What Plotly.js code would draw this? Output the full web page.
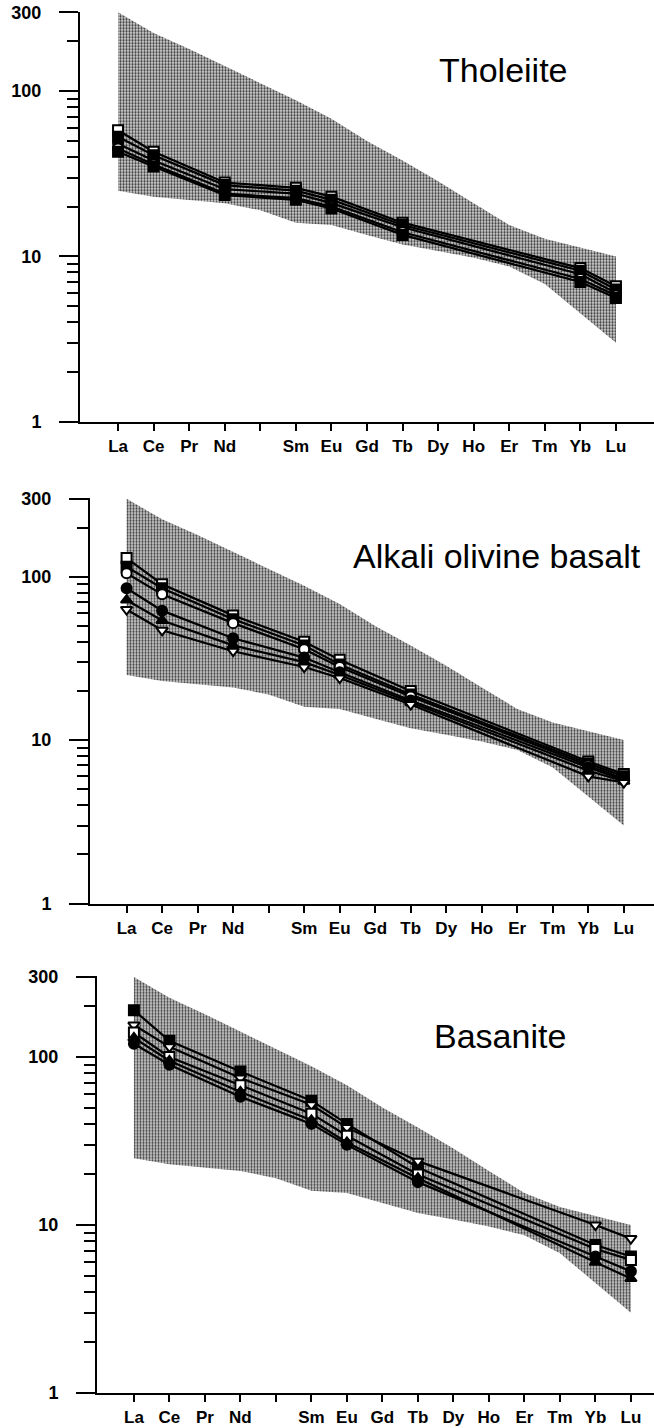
<!DOCTYPE html>
<html>
<head>
<meta charset="utf-8">
<script src="https://cdn.plot.ly/plotly-3.0.1.min.js"></script>
<style>html,body{margin:0;padding:0;background:#fff}#chart{width:654px;height:1428px}</style>
</head>
<body>
<div id="chart"></div>
<script>
// ---- data ----
const elements = ['La','Ce','Pr','Nd','Pm','Sm','Eu','Gd','Tb','Dy','Ho','Er','Tm','Yb','Lu'];
const tickLabels = ['La','Ce','Pr','Nd','','Sm','Eu','Gd','Tb','Dy','Ho','Er','Tm','Yb','Lu'];
const analysed = ['La','Ce','Nd','Sm','Eu','Tb','Yb','Lu'];
const bandUpper = [300, 225, 180, 142, 112, 88, 68, 50, 38, 28.5, 21, 15.5, 12.8, 11.3, 10];
const bandLower = [25, 23, 22, 21, 19, 16, 15.5, 13.5, 11.8, 10.8, 9.8, 8.7, 6.8, 4.5, 3.0];
const panelTitles = ['Tholeiite', 'Alkali olivine basalt', 'Basanite'];
const yTickVals = [1, 10, 100, 300];
const yTickText = ['1', '10', '100', '300'];
const yMinorVals = [2,3,4,5,6,7,8,9,20,30,40,50,60,70,80,90,200];

const tholeiite = [
  [58, 43, 28, 26, 23, 16, 8.5, 6.6],
  [53, 41, 27, 25, 22, 15.5, 8.2, 6.3],
  [48, 38, 25.5, 24, 21, 15, 7.8, 6.0],
  [45, 36, 24, 22.5, 20, 14, 7.3, 5.8],
  [43, 35, 23.5, 22, 19.5, 13.5, 7.0, 5.6]
];
const tholeiiteSymbols = ['square', 'square', 'circle', 'circle', 'square'];
const tholeiiteOpen = [true, false, false, true, false];

const alkali = [
  [130, 90, 58, 40, 31, 20, 7.4, 6.2],
  [115, 85, 55, 38, 29, 19, 7.2, 6.0],
  [105, 78, 52, 36, 28, 18.5, 7.0, 5.8],
  [85, 62, 42, 32, 26, 17.5, 6.8, 5.7],
  [72, 54, 38, 30, 25, 17, 6.5, 5.6],
  [63, 47, 35, 28, 24, 16.5, 6.0, 5.5]
];
const alkaliSymbols = ['square', 'square', 'circle', 'circle', 'triangle-up', 'triangle-down'];
const alkaliOpen = [true, false, true, false, false, true];

const basanite = [
  [190, 125, 82, 55, 40, 22, 7.6, 6.5],
  [155, 115, 75, 52, 38, 24, 10, 8.3],
  [140, 100, 68, 46, 34, 20, 7.2, 6.2],
  [130, 95, 62, 42, 31, 19, 6.0, 4.8],
  [120, 90, 58, 40, 30, 18, 6.5, 5.3]
];
const basaniteSymbols = ['square', 'triangle-down', 'square', 'triangle-up', 'circle'];
const basaniteOpen = [false, true, true, false, false];

// ---- layout geometry (pixels of the 654x1428 page) ----
const W = 654, H = 1428;
const panels = [
  {xdom:[80/W, 1], xr:[-1.07, 15.07], ydom:[1-421.7/H, 1-11.8/H], title:[503, 70], series: tholeiite, sym: tholeiiteSymbols, open: tholeiiteOpen},
  {xdom:[90/W, 1], xr:[-1.03, 14.85], ydom:[1-903.5/H, 1-498.3/H], title:[497, 556], series: alkali, sym: alkaliSymbols, open: alkaliOpen},
  {xdom:[97/W, 1], xr:[-1.04, 14.65], ydom:[1-1393/H, 1-976.4/H], title:[500, 1036], series: basanite, sym: basaniteSymbols, open: basaniteOpen}
];

const FONT = 'Liberation Sans, Arial, Helvetica, sans-serif';
const traces = [];
const layout = {
  width: W, height: H,
  margin: {l:0, r:0, t:0, b:0},
  paper_bgcolor: '#fff', plot_bgcolor: 'rgba(0,0,0,0)',
  showlegend: false,
  font: {family: FONT, color: '#000'},
  annotations: []
};

panels.forEach((p, k) => {
  const n = k === 0 ? '' : String(k + 1);
  const xa = 'x' + n, ya = 'y' + n;
  // envelope band (stippled)
  traces.push({
    x: elements.concat(elements.slice().reverse()),
    y: bandUpper.concat(bandLower.slice().reverse()),
    xaxis: xa, yaxis: ya,
    type: 'scatter', mode: 'lines', fill: 'toself',
    fillcolor: '#a8a8a8',
    fillpattern: {shape: '.', fgcolor: '#3c3c3c', bgcolor: '#d6d6d6', size: 3, solidity: 0.45},
    line: {width: 0, color: 'rgba(0,0,0,0)'},
    hoverinfo: 'skip'
  });
  p.series.forEach((vals, i) => {
    traces.push({
      x: analysed, y: vals, xaxis: xa, yaxis: ya,
      type: 'scatter', mode: 'lines+markers',
      line: {color: '#000', width: 2.2},
      marker: {symbol: p.sym[i], size: 10, color: p.open[i] ? '#fff' : '#000', line: {color: '#000', width: 2}}
    });
  });
  layout['xaxis' + n] = {
    domain: p.xdom, anchor: ya, type: 'category',
    categoryorder: 'array', categoryarray: elements,
    range: p.xr, tickmode: 'array', tickvals: elements, ticktext: tickLabels,
    showline: true, linecolor: '#000', linewidth: 2,
    ticks: 'outside', ticklen: 7, tickwidth: 2, tickcolor: '#000',
    ticklabelstandoff: 1,
    showgrid: false, zeroline: false, fixedrange: true,
    tickfont: {family: FONT, size: 17, weight: 'bold', color: '#000'}
  };
  layout['yaxis' + n] = {
    domain: p.ydom, anchor: xa, type: 'log', range: [0, 2.48],
    tickmode: 'array', tickvals: yTickVals, ticktext: yTickText,
    showline: true, linecolor: '#000', linewidth: 2,
    ticks: 'outside', ticklen: 19, tickwidth: 2, tickcolor: '#000',
    ticklabelstandoff: 14,
    minor: {tickmode: 'array', tickvals: yMinorVals, ticks: 'outside', ticklen: 11, tickwidth: 2, tickcolor: '#000', showgrid: false},
    showgrid: false, zeroline: false, fixedrange: true,
    tickfont: {family: FONT, size: 18, weight: 'bold', color: '#000'}
  };
  layout.annotations.push({
    xref: 'paper', yref: 'paper', x: p.title[0] / W, y: 1 - p.title[1] / H,
    xanchor: 'center', yanchor: 'middle', showarrow: false,
    text: panelTitles[k], font: {family: FONT, size: 34, color: '#000'}
  });
});

Plotly.newPlot('chart', traces, layout, {staticPlot: true, displayModeBar: false});
</script>
</body>
</html>
